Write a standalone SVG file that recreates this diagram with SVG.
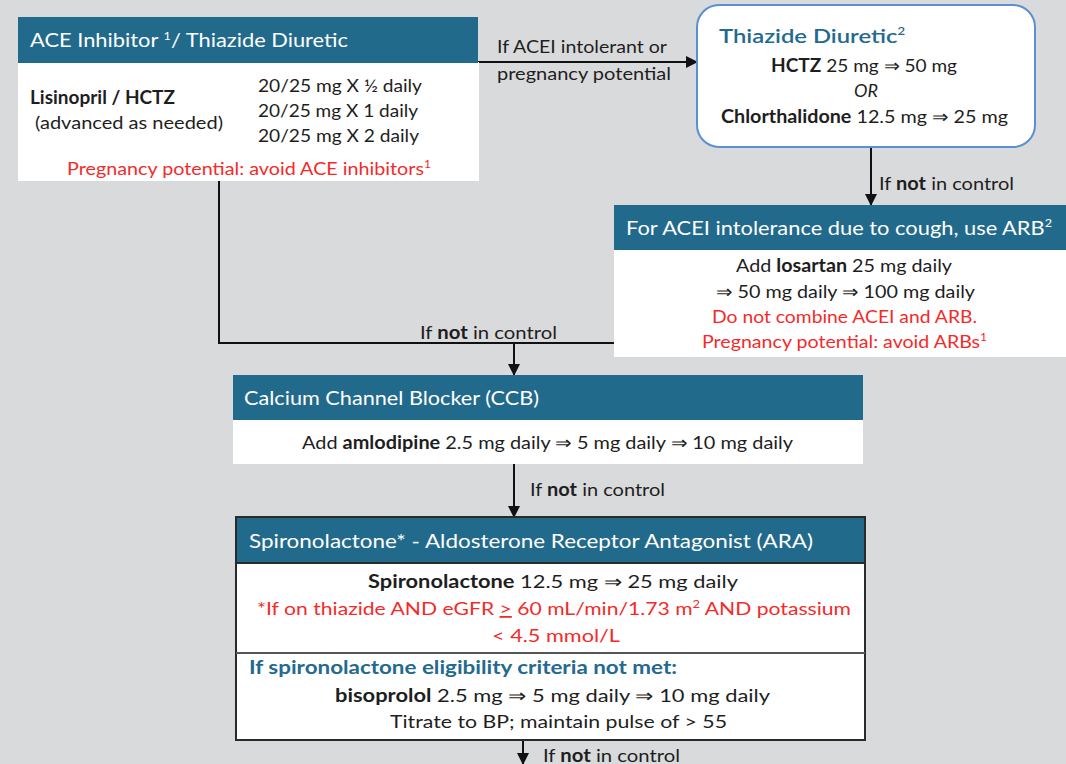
<svg xmlns="http://www.w3.org/2000/svg" width="1066" height="764" viewBox="0 0 1066 764">
<style>
text{font-family:"Lato","Liberation Sans",sans-serif;font-size:18px;fill:#1e1e1e}
.hd{fill:#226a8c}
.ht{fill:#fff;font-size:19px}
.b{font-weight:bold}
.r{fill:#f42a2a}
.c{text-anchor:middle}
.bl{fill:#236a8e}
.sup{font-size:11px}
.wb{fill:#fff}
.ln{fill:none;stroke:#111;stroke-width:2}
</style>
<defs>
<marker id="ah" markerUnits="userSpaceOnUse" markerWidth="12" markerHeight="12" refX="11" refY="6" orient="auto">
<path d="M0,0 L12,6 L0,12 z" fill="#111"/>
</marker>
</defs>
<rect width="1066" height="764" fill="#d9dadc"/>
<g id="connectors">
<path class="ln" d="M478,62 H697" marker-end="url(#ah)"/>
<text x="497" y="53" textLength="170" lengthAdjust="spacingAndGlyphs">If ACEI intolerant or</text>
<text x="497" y="80" textLength="174" lengthAdjust="spacingAndGlyphs">pregnancy potential</text>
<path class="ln" d="M871,147 V205" marker-end="url(#ah)"/>
<text x="879" y="190" textLength="135" lengthAdjust="spacingAndGlyphs">If <tspan class="b">not</tspan> in control</text>
<path class="ln" d="M219,181 V343 H614"/>
<path class="ln" d="M514,343 V375" marker-end="url(#ah)"/>
<text x="420" y="339" textLength="137" lengthAdjust="spacingAndGlyphs">If <tspan class="b">not</tspan> in control</text>
<path class="ln" d="M514,464 V517" marker-end="url(#ah)"/>
<text x="530" y="496" textLength="135" lengthAdjust="spacingAndGlyphs">If <tspan class="b">not</tspan> in control</text>
<path class="ln" d="M523,740 V764" marker-end="url(#ah)"/>
<text x="543" y="762" textLength="137" lengthAdjust="spacingAndGlyphs">If <tspan class="b">not</tspan> in control</text>
</g>
<g id="ace">
<rect class="wb" x="18" y="62" width="461" height="119"/>
<rect class="hd" x="18" y="17" width="460" height="46"/>
<text class="ht" x="30" y="47" textLength="318" lengthAdjust="spacingAndGlyphs">ACE Inhibitor <tspan class="sup" dy="-7">1</tspan><tspan dy="7">/ Thiazide Diuretic</tspan></text>
<text class="b" x="30" y="104" textLength="145" lengthAdjust="spacingAndGlyphs">Lisinopril / HCTZ</text>
<text x="35" y="129" textLength="188" lengthAdjust="spacingAndGlyphs">(advanced as needed)</text>
<text x="258" y="92" textLength="164" lengthAdjust="spacingAndGlyphs">20/25 mg X ½ daily</text>
<text x="258" y="117" textLength="160" lengthAdjust="spacingAndGlyphs">20/25 mg X 1 daily</text>
<text x="258" y="142" textLength="161" lengthAdjust="spacingAndGlyphs">20/25 mg X 2 daily</text>
<text class="r" x="67" y="175" textLength="364" lengthAdjust="spacingAndGlyphs">Pregnancy potential: avoid ACE inhibitors<tspan class="sup" dy="-7">1</tspan></text>
</g>
<g id="thiazide">
<rect x="697" y="5" width="338" height="142" rx="22" fill="#fff" stroke="#5a8fd2" stroke-width="2"/>
<text class="bl" x="719" y="43" style="font-size:20px;font-weight:600" textLength="186" lengthAdjust="spacingAndGlyphs">Thiazide Diuretic<tspan class="sup" dy="-8">2</tspan></text>
<text x="771" y="72" textLength="186" lengthAdjust="spacingAndGlyphs"><tspan class="b">HCTZ</tspan> 25 mg ⇒ 50 mg</text>
<text class="c" x="866" y="97" font-style="italic">OR</text>
<text x="721" y="123" textLength="287" lengthAdjust="spacingAndGlyphs"><tspan class="b">Chlorthalidone</tspan> 12.5 mg ⇒ 25 mg</text>
</g>
<g id="arb">
<rect class="wb" x="614" y="250" width="452" height="107"/>
<rect class="hd" x="614" y="205" width="452" height="45"/>
<text class="ht" x="626" y="235" textLength="426" lengthAdjust="spacingAndGlyphs">For ACEI intolerance due to cough, use ARB<tspan class="sup" dy="-8">2</tspan></text>
<text x="736" y="272" textLength="216" lengthAdjust="spacingAndGlyphs">Add <tspan class="b">losartan</tspan> 25 mg daily</text>
<text x="716" y="298" textLength="259" lengthAdjust="spacingAndGlyphs">⇒ 50 mg daily ⇒ 100 mg daily</text>
<text class="r" x="712" y="323" textLength="265" lengthAdjust="spacingAndGlyphs">Do not combine ACEI and ARB.</text>
<text class="r" x="702" y="348" textLength="285" lengthAdjust="spacingAndGlyphs">Pregnancy potential: avoid ARBs<tspan class="sup" dy="-7">1</tspan></text>
</g>
<g id="ccb">
<rect class="wb" x="233" y="420" width="630" height="44"/>
<rect class="hd" x="233" y="375" width="630" height="45"/>
<text class="ht" x="244" y="405" textLength="295" lengthAdjust="spacingAndGlyphs">Calcium Channel Blocker (CCB)</text>
<text x="302" y="449" textLength="491" lengthAdjust="spacingAndGlyphs">Add <tspan class="b">amlodipine</tspan> 2.5 mg daily ⇒ 5 mg daily ⇒ 10 mg daily</text>
</g>
<g id="ara">
<rect x="236" y="517" width="629" height="223" fill="#fff" stroke="#2a2a2a" stroke-width="2"/>
<rect class="hd" x="237" y="518" width="627" height="45"/>
<line x1="236" y1="563" x2="865" y2="563" stroke="#2a2a2a" stroke-width="2"/>
<line x1="236" y1="653" x2="865" y2="653" stroke="#555" stroke-width="2"/>
<text class="ht" x="249" y="548" textLength="564" lengthAdjust="spacingAndGlyphs">Spironolactone* - Aldosterone Receptor Antagonist (ARA)</text>
<text x="368" y="588" textLength="370" lengthAdjust="spacingAndGlyphs"><tspan class="b">Spironolactone</tspan> 12.5 mg ⇒ 25 mg daily</text>
<text class="r" x="257" y="615" textLength="594" lengthAdjust="spacingAndGlyphs">*If on thiazide AND eGFR <tspan text-decoration="underline">&gt;</tspan> 60 mL/min/1.73 m<tspan class="sup" dy="-7">2</tspan><tspan dy="7"> AND potassium</tspan></text>
<text class="r" x="492" y="642" textLength="128" lengthAdjust="spacingAndGlyphs">&lt; 4.5 mmol/L</text>
<text class="bl b" x="249" y="674" textLength="428" lengthAdjust="spacingAndGlyphs">If spironolactone eligibility criteria not met:</text>
<text x="335" y="702" textLength="435" lengthAdjust="spacingAndGlyphs"><tspan class="b">bisoprolol</tspan> 2.5 mg ⇒ 5 mg daily ⇒ 10 mg daily</text>
<text x="390" y="728" textLength="337" lengthAdjust="spacingAndGlyphs">Titrate to BP; maintain pulse of &gt; 55</text>
</g>
</svg>
